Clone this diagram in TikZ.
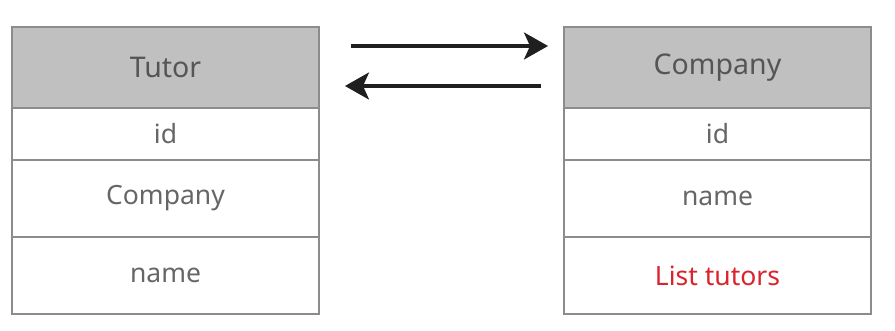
\documentclass[tikz,border=0pt]{standalone}
\usepackage{fontspec}
\setmainfont{Noto Sans}
\usetikzlibrary{positioning,arrows.meta}
\definecolor{headgray}{RGB}{192,192,192}
\definecolor{linegray}{RGB}{140,140,140}
\definecolor{textgray}{RGB}{102,102,102}
\definecolor{headtext}{RGB}{85,85,85}
\definecolor{listred}{RGB}{218,35,45}
\tikzset{
    cell/.style={draw=linegray, line width=1.5pt, fill=white, minimum width=307pt,
        inner sep=0pt, outer sep=0pt, text=textgray, font=\fontsize{26.5}{30}\selectfont},
    headcell/.style={cell, fill=headgray, minimum height=81pt, text=headtext,
        font=\fontsize{28.5}{32}\selectfont},
    link/.style={line width=3.2pt, draw=black!88, -{Stealth[length=24pt, width=27pt, inset=6pt]}}
}
\begin{document}
\begin{tikzpicture}[x=1pt, y=-1pt]
        \useasboundingbox (0,0) rectangle (895,331);
        % Tutor table
        \node[headcell, anchor=north west] (t-head) at (12,27) {Tutor};
        \node[cell, minimum height=52pt, below=0pt of t-head] (t-id) {id};
        \node[cell, minimum height=77pt, below=0pt of t-id] (t-company) {Company};
        \node[cell, minimum height=77pt, below=0pt of t-company] (t-name) {name};
        % Company table
        \node[headcell, anchor=north west] (c-head) at (564,27) {Company};
        \node[cell, minimum height=52pt, below=0pt of c-head] (c-id) {id};
        \node[cell, minimum height=77pt, below=0pt of c-id] (c-name) {name};
        \node[cell, minimum height=77pt, below=0pt of c-name, text=listred] (c-list) {List tutors};
        % arrows between the tables
        \coordinate (to-start) at (351,46);
        \coordinate (to-end) at (548,46);
        \coordinate (back-start) at (541,86);
        \coordinate (back-end) at (345,86);
        \draw[link] (to-start) -- (to-end);
        \draw[link] (back-start) -- (back-end);
    \end{tikzpicture}
\end{document}
